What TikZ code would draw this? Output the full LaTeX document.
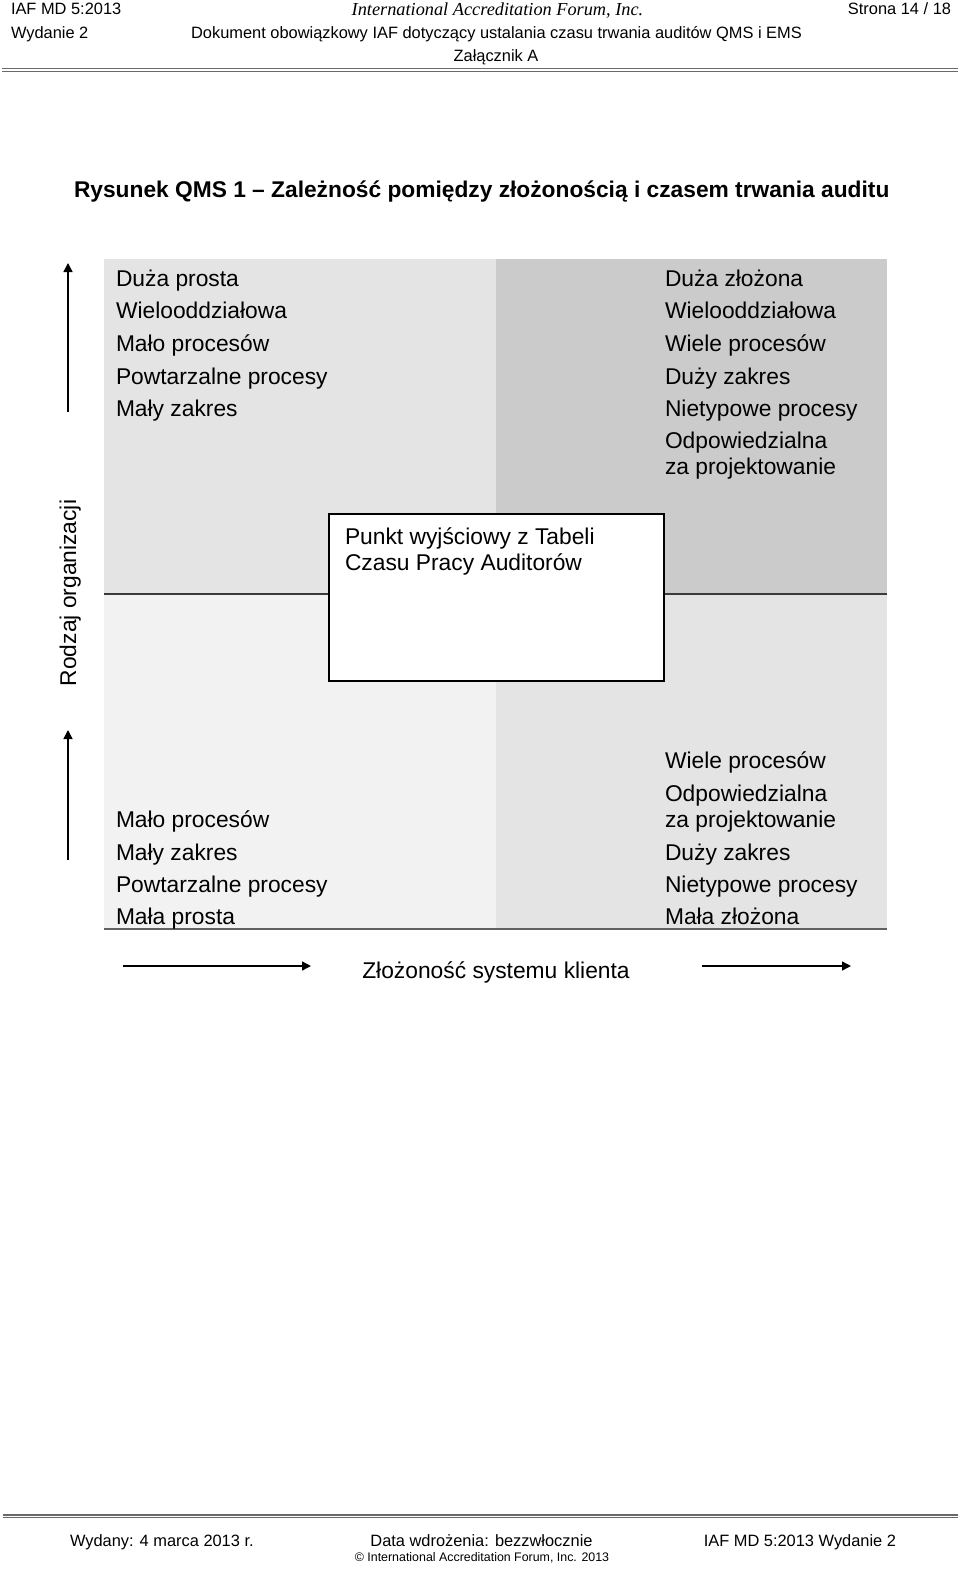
\documentclass[tikz,border=0pt]{standalone}
\usepackage{fontspec}
\setmainfont{Liberation Sans}
\newfontfamily\headserif{Liberation Serif}
\usetikzlibrary{arrows.meta,positioning}
\definecolor{quadA}{HTML}{E4E4E4}
\definecolor{quadB}{HTML}{CBCBCB}
\definecolor{quadC}{HTML}{F2F2F2}
\definecolor{rulegray}{HTML}{3A3A3A}
\definecolor{pagegray}{HTML}{6A6A6A}

\begin{document}
\begin{tikzpicture}[x=1pt, y=-1pt,
  >={Triangle[length=9pt,width=9pt]},
  every node/.style={inner sep=0pt, outer sep=0pt},
  item/.style={anchor=base west, font=\fontsize{22.8}{26}\selectfont},
  small/.style={font=\fontsize{16.4}{18}\selectfont},
  axis/.style={->, line width=1.4pt},
  startbox/.style={draw, fill=white, line width=1.3pt, anchor=north west,
                   minimum width=335pt, minimum height=167pt}
]
  \useasboundingbox (0,0) rectangle (960,1569);

  % header
  \node[small, anchor=base west] (hdcode) at (11,14.5) {IAF MD 5:2013};
  \node[anchor=base, font=\headserif\itshape\fontsize{18.3}{22}\selectfont] (hdforum) at (497.5,15) {International Accreditation Forum, Inc.};
  \node[small, anchor=base east] (hdpage) at (951,14.5) {Strona 14 / 18};
  \node[small, anchor=base west] (hdissue) at (11,38.5) {Wydanie 2};
  \node[small, anchor=base] (hddoc) at (496.5,38.5) {Dokument obowiązkowy IAF dotyczący ustalania czasu trwania auditów QMS i EMS};
  \node[small, anchor=base] (hdannex) at (496,61.5) {Załącznik A};
  \draw[pagegray, line width=1.3pt] (2,68.3) -- (958,68.3);
  \draw[pagegray, line width=1pt] (2,71.2) -- (958,71.2);

  % title
  \node[anchor=base west, font=\bfseries\fontsize{22.75}{26}\selectfont] (title) at (74,197.5)
       {Rysunek QMS 1 – Zależność pomiędzy złożonością i czasem trwania auditu};

  % quadrants
  \fill[quadA] (104,259) rectangle (496,594);
  \fill[quadB] (496,259) rectangle (887,594);
  \fill[quadC] (104,594) rectangle (496,929);
  \fill[quadA] (496,594) rectangle (887,929);
  \draw[rulegray, line width=1.5pt] (104,594) -- (887,594);
  \draw[rulegray!80, line width=1.5pt] (104,929) -- (887,929);

  \foreach \i/\y/\t in {1/286/Duża prosta, 2/318.5/Wielooddziałowa, 3/351/Mało procesów,
                        4/384/Powtarzalne procesy, 5/416/Mały zakres}
    \node[item] (tl\i) at (116,\y) {\t};
  \foreach \i/\y/\t in {1/286/Duża złożona, 2/318.5/Wielooddziałowa, 3/351/Wiele procesów,
                        4/384/Duży zakres, 5/416/Nietypowe procesy, 6/448/Odpowiedzialna,
                        7/474/za projektowanie}
    \node[item] (tr\i) at (665,\y) {\t};
  \foreach \i/\y/\t in {1/827/Mało procesów, 2/860/Mały zakres, 3/892/Powtarzalne procesy,
                        4/924/Mała prosta}
    \node[item] (bl\i) at (116,\y) {\t};
  \foreach \i/\y/\t in {1/768/Wiele procesów, 2/801/Odpowiedzialna, 3/827/za projektowanie,
                        4/860/Duży zakres, 5/892/Nietypowe procesy, 6/924/Mała złożona}
    \node[item] (br\i) at (665,\y) {\t};

  % starting point box
  \node[startbox] (start) at (329,514) {};
  \node[item] (starta) at (345,544) {Punkt wyjściowy z Tabeli};
  \node[item] (startb) at (345,570) {Czasu Pracy Auditorów};

  % axes
  \node[item, anchor=base, rotate=90] (orgtype) at (76,593) {Rodzaj organizacji};
  \coordinate (upA0) at (68,412);
  \coordinate (upA1) at (68,263);
  \coordinate (upB0) at (68,860);
  \coordinate (upB1) at (68,730);
  \draw[axis] (upA0) -- (upA1);
  \draw[axis] (upB0) -- (upB1);

  \node[item, anchor=base] (complex) at (496,978) {Złożoność systemu klienta};
  \coordinate (rtA0) at (123,966);
  \coordinate (rtA1) at (311,966);
  \coordinate (rtB0) at (702,966);
  \coordinate (rtB1) at (851,966);
  \draw[axis] (rtA0) -- (rtA1);
  \draw[axis] (rtB0) -- (rtB1);

  % footer
  \draw[pagegray, line width=1.3pt] (3,1515) -- (958,1515);
  \draw[pagegray, line width=1pt] (3,1517.8) -- (958,1517.8);
  \node[small, anchor=base west] (ftdate) at (70,1546.5) {Wydany: 4 marca 2013 r.};
  \node[small, anchor=base] (ftimpl) at (481.5,1546.5) {Data wdrożenia: bezzwłocznie};
  \node[small, anchor=base east] (ftcode) at (896,1546.5) {IAF MD 5:2013 Wydanie 2};
  \node[anchor=base, font=\fontsize{12.4}{14}\selectfont] (ftcopy) at (482,1561.5) {© International Accreditation Forum, Inc. 2013};
\end{tikzpicture}
\end{document}
